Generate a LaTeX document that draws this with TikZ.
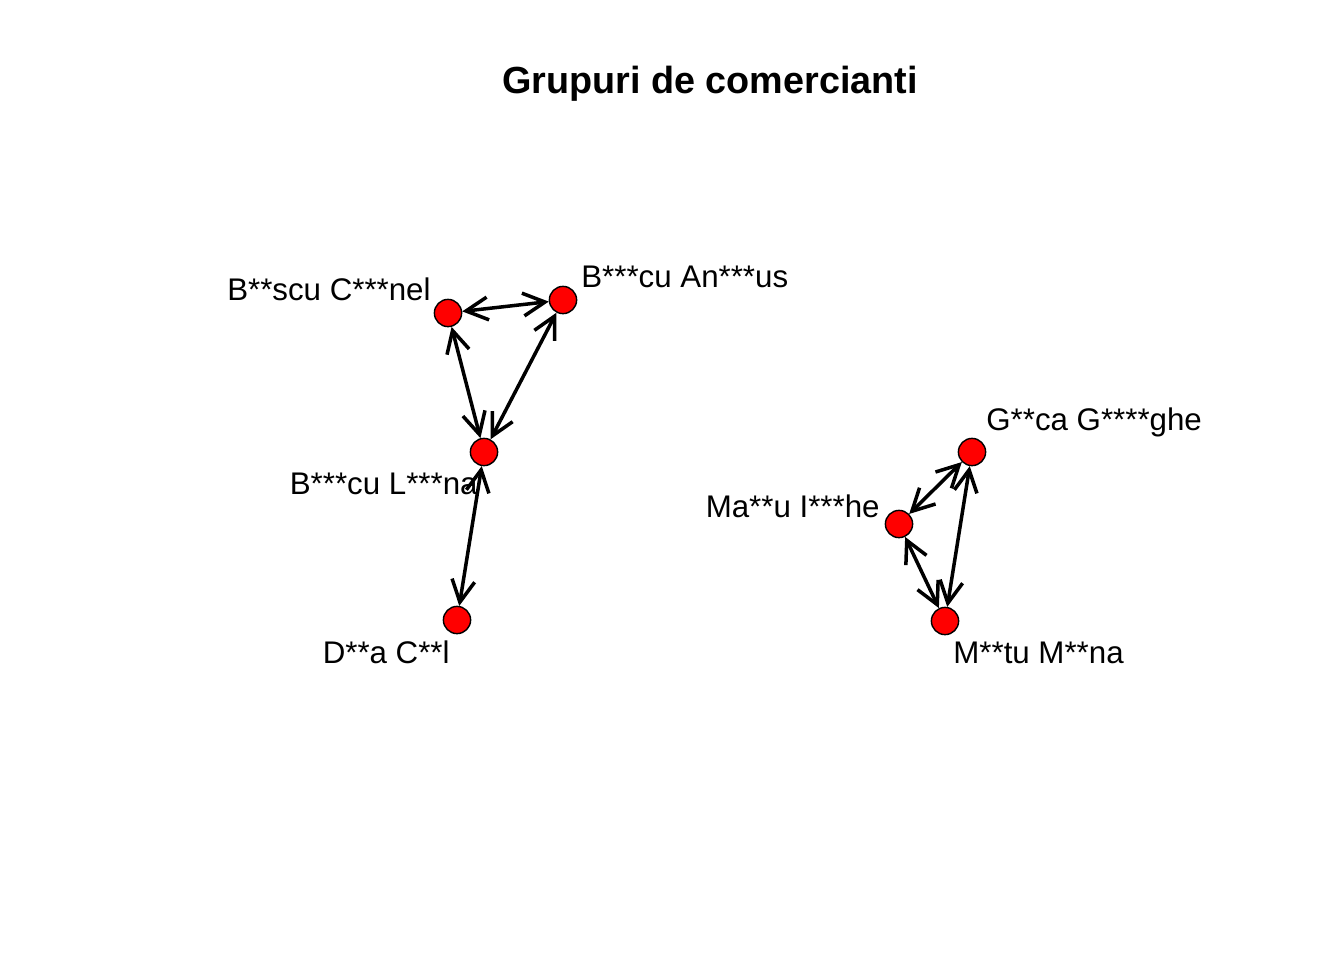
\documentclass[tikz,border=0pt]{standalone}
\usepackage{fontspec}
\setmainfont{Liberation Sans}
\usetikzlibrary{arrows.meta}
\tikzset{
  vertex/.style={circle,draw=black,fill=red,line width=0.8pt,minimum size=15.5pt,inner sep=0pt},
  vlabel/.style={inner sep=0pt,font=\fontsize{17.8}{20}\selectfont},
  edge/.style={<->,line width=2pt}
}
\begin{document}
\begin{tikzpicture}[x=0.02cm,y=-0.02cm,>={Straight Barb[length=12.5pt,width=13pt]}]
        \useasboundingbox (0,0) rectangle (1344,960);
        \node[inner sep=0pt,anchor=base,font=\fontsize{21.5}{24}\selectfont\bfseries] (title) at (710,93) {Grupuri de comercianti};
        % first group
        \node[vertex] (BC) at (448,313) {};
        \node[vertex] (BA) at (563,300) {};
        \node[vertex] (BL) at (484,452) {};
        \node[vertex] (DC) at (457,620) {};
        \node[vlabel,anchor=east] (BClab) at (431,289) {B**scu C***nel};
        \node[vlabel,anchor=west] (BAlab) at (581,277) {B***cu An***us};
        \node[vlabel,anchor=east] (BLlab) at (478,484) {B***cu L***na};
        \node[vlabel,anchor=east] (DClab) at (450,652) {D**a C**l};
        \draw[edge] (BC)--(BA);
        \draw[edge] (BC)--(BL);
        \draw[edge] (BA)--(BL);
        \draw[edge] (BL)--(DC);
        % second group
        \node[vertex] (GG) at (972,452) {};
        \node[vertex] (MI) at (899,524) {};
        \node[vertex] (MM) at (945,621) {};
        \node[vlabel,anchor=west] (GGlab) at (986,422) {G**ca G****ghe};
        \node[vlabel,anchor=east] (MIlab) at (880,506) {Ma**u I***he};
        \node[vlabel,anchor=west] (MMlab) at (953,653) {M**tu M**na};
        \draw[edge] (GG)--(MI);
        \draw[edge] (GG)--(MM);
        \draw[edge] (MI)--(MM);
\end{tikzpicture}
\end{document}
